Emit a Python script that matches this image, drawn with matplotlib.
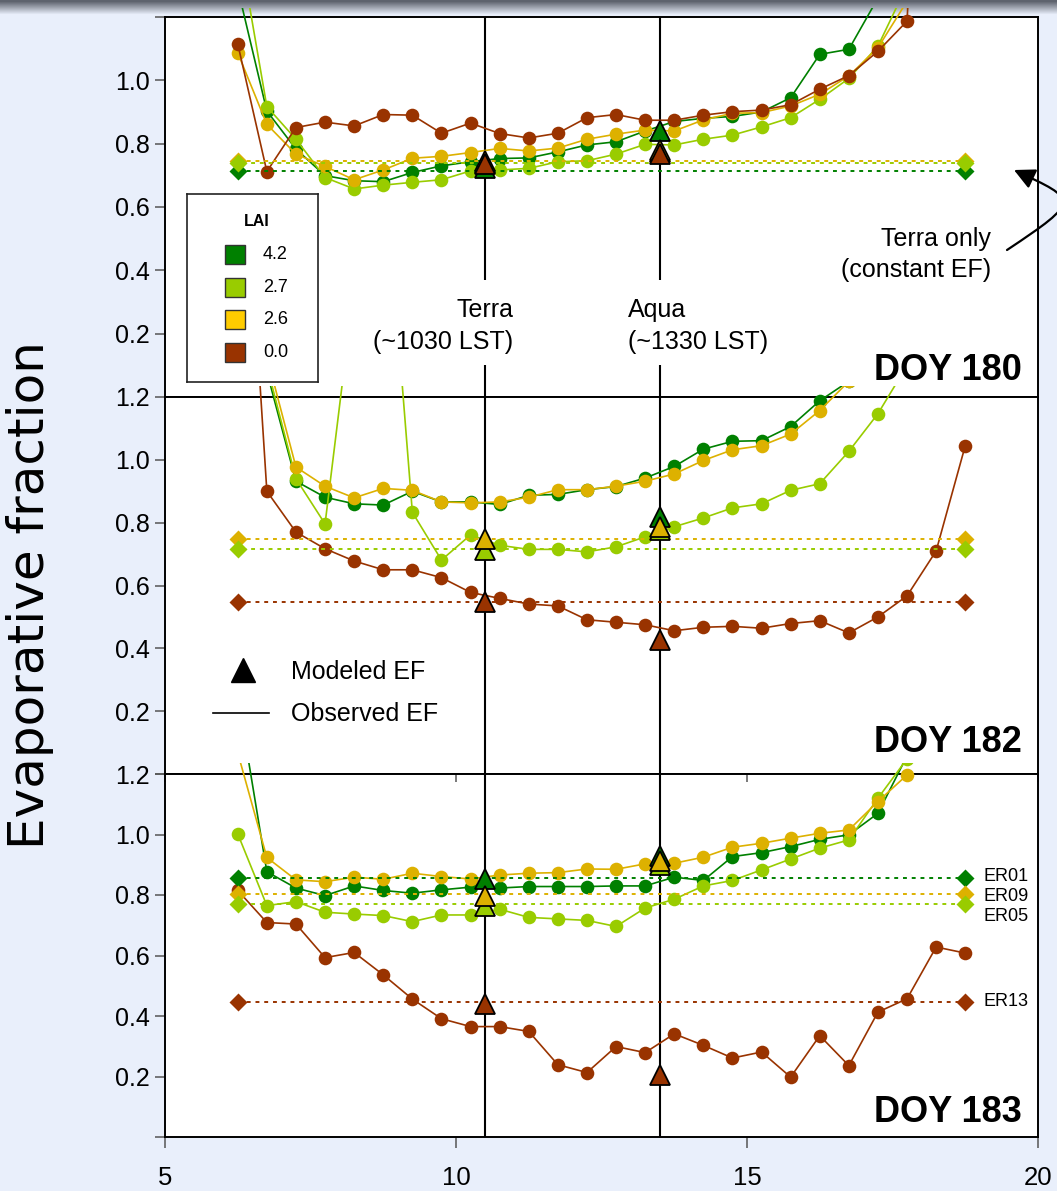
import numpy as np
import matplotlib
matplotlib.use("Agg")
import matplotlib.pyplot as plt
from matplotlib.patches import Rectangle, FancyArrowPatch
from matplotlib.path import Path
from matplotlib.transforms import Affine2D

plt.rcParams["font.family"] = ["Liberation Sans", "DejaVu Sans"]

nan = np.nan

# Half-hourly observation times (local solar time, hours)
hours = [6.25 + 0.5 * i for i in range(26)]

sites = ["ER01", "ER05", "ER09", "ER13"]
lai_labels = ["4.2", "2.7", "2.6", "0.0"]

# Overpass times (LST)
terra_time = 10.5
aqua_time = 13.5

# ---- DOY 180: observed EF ----
obs180_er01 = [1.29, 0.903, 0.783, 0.699, 0.683, 0.680, 0.709, 0.730, 0.743, 0.753, 0.755, 0.774, 0.796,
               0.806, 0.840, 0.870, 0.880, 0.886, 0.900, 0.945, 1.082, 1.098, 1.26, nan, nan, nan]
obs180_er05 = [1.45, 0.917, 0.814, 0.693, 0.657, 0.669, 0.678, 0.686, 0.714, 0.717, 0.722, 0.743, 0.746,
               0.767, 0.798, 0.796, 0.814, 0.827, 0.853, 0.882, 0.940, 1.006, 1.108, 1.30, nan, nan]
obs180_er09 = [1.087, 0.861, 0.767, 0.728, 0.686, 0.717, 0.754, 0.760, 0.772, 0.785, 0.777, 0.786, 0.814,
               0.830, 0.843, 0.840, 0.875, 0.896, 0.898, 0.919, 0.956, 1.014, 1.103, 1.25, nan, nan]
obs180_er13 = [1.115, 0.712, 0.851, 0.868, 0.856, 0.892, 0.890, 0.833, 0.865, 0.832, 0.818, 0.833, 0.882,
               0.892, 0.874, 0.874, 0.890, 0.901, 0.906, 0.923, 0.972, 1.015, 1.092, 1.187, 3.0, nan]
terra180 = [0.722, 0.740, 0.745, 0.736]      # ER01, ER05, ER09, ER13
aqua180 = [0.840, 0.775, 0.780, 0.766]
const180 = [0.713, 0.740, 0.745, nan]

# ---- DOY 182: observed EF ----
obs182_er01 = [nan, 1.28, 0.932, 0.881, 0.860, 0.856, 0.900, 0.866, 0.866, 0.858, 0.887, 0.890, 0.905,
               0.915, 0.942, 0.979, 1.034, 1.059, 1.061, 1.106, 1.188, 1.25, nan, nan, nan, nan]
obs182_er05 = [nan, 1.30, 0.940, 0.796, 1.55, 2.00, 0.833, 0.681, 0.761, 0.728, 0.715, 0.715, 0.707,
               0.723, 0.755, 0.787, 0.815, 0.847, 0.860, 0.903, 0.924, 1.027, 1.147, 1.30, nan, nan]
obs182_er09 = [nan, 1.33, 0.977, 0.916, 0.879, 0.909, 0.903, 0.866, 0.863, 0.866, 0.881, 0.905, 0.905,
               0.916, 0.932, 0.955, 0.998, 1.032, 1.045, 1.082, 1.157, 1.25, nan, nan, nan, nan]
obs182_er13 = [2.35, 0.900, 0.770, 0.717, 0.678, 0.650, 0.650, 0.625, 0.578, 0.559, 0.541, 0.535, 0.491,
               0.483, 0.475, 0.456, 0.467, 0.470, 0.464, 0.479, 0.488, 0.449, 0.500, 0.567, 0.710, 1.045]
terra182 = [nan, 0.713, 0.749, 0.547]
aqua182 = [0.819, 0.777, 0.785, 0.425]
const182 = [nan, 0.715, 0.747, 0.548]

# ---- DOY 183: observed EF ----
obs183_er01 = [1.46, 0.877, 0.823, 0.798, 0.830, 0.815, 0.806, 0.817, 0.826, 0.823, 0.828, 0.828, 0.828,
               0.830, 0.830, 0.859, 0.848, 0.927, 0.940, 0.960, 0.984, 0.999, 1.070, 1.26, nan, nan]
obs183_er05 = [1.002, 0.765, 0.778, 0.743, 0.737, 0.732, 0.712, 0.734, 0.734, 0.753, 0.726, 0.721, 0.716,
               0.696, 0.757, 0.786, 0.830, 0.848, 0.883, 0.919, 0.955, 0.982, 1.120, 1.25, nan, nan]
obs183_er09 = [1.27, 0.924, 0.850, 0.844, 0.859, 0.852, 0.872, 0.861, 0.853, 0.866, 0.872, 0.874, 0.886,
               0.885, 0.903, 0.905, 0.925, 0.958, 0.971, 0.988, 1.004, 1.015, 1.109, 1.197, nan, nan]
obs183_er13 = [0.815, 0.709, 0.704, 0.593, 0.610, 0.536, 0.456, 0.391, 0.365, 0.365, 0.349, 0.239, 0.213,
               0.299, 0.279, 0.341, 0.303, 0.261, 0.281, 0.198, 0.335, 0.236, 0.413, 0.457, 0.628, 0.608]
terra183 = [0.852, 0.765, 0.797, 0.441]
aqua183 = [0.929, 0.899, 0.913, 0.204]
const183 = [0.856, 0.771, 0.803, 0.445]

site_colors = {"ER01": "#008000", "ER05": "#99CC00", "ER09": "#DDB100", "ER13": "#993300"}
swatch_colors = ["#008000", "#99CC00", "#FFCC00", "#993300"]

BG = "#E9EFFB"
W, H = 1057, 1191
fig = plt.figure(figsize=(W / 100, H / 100), dpi=100, facecolor=BG)


def px_rect(left, top, right, bottom):
    return [left / W, 1 - bottom / H, (right - left) / W, (bottom - top) / H]


# grey title-bar gradient along the top edge
gax = fig.add_axes([0, 1 - 15 / H, 1, 15 / H])
gax.axis("off")
dark = np.array([0.37, 0.39, 0.43])
light = np.array([0.914, 0.937, 0.984])
t = np.clip((np.arange(15) - 1.0) / 13.0, 0, 1)[:, None]
grad = dark * (1 - t) + light * t
gax.imshow(grad[:, None, :], aspect="auto", extent=[0, 1, 0, 1])

X0, X1 = 165, 1038
ax1 = fig.add_axes(px_rect(X0, 17, X1, 397))
ax2 = fig.add_axes(px_rect(X0, 397, X1, 774))
ax3 = fig.add_axes(px_rect(X0, 774, X1, 1137))
panels = [
    (ax1, [obs180_er01, obs180_er05, obs180_er09, obs180_er13], terra180, aqua180, const180, "DOY 180", 9 / 380),
    (ax2, [obs182_er01, obs182_er05, obs182_er09, obs182_er13], terra182, aqua182, const182, "DOY 182", 11 / 377),
    (ax3, [obs183_er01, obs183_er05, obs183_er09, obs183_er13], terra183, aqua183, const183, "DOY 183", 11 / 363),
]

doy_base = {"DOY 180": 0.054, "DOY 182": 0.070, "DOY 183": 0.050}

for ax, obs, terra, aqua, const, doy, ext in panels:
    ax.set_xlim(5, 20)
    ax.set_ylim(0, 1.2)
    ax.set_facecolor("white")
    for s in ax.spines.values():
        s.set_linewidth(1.4)
        s.set_color("black")
    ax.tick_params(axis="y", direction="out", length=7, width=1.1, color="#555555",
                   labelsize=18, pad=4)
    overflow = Rectangle((0, 0), 1, 1 + ext, transform=ax.transAxes)

    # observed EF series
    for site, vals in zip(sites, obs):
        ln, = ax.plot(hours, vals, color=site_colors[site], lw=1.2, marker="o", ms=9.8,
                      mec="none", zorder=3)
        ln.set_clip_path(overflow)

    # Terra-only constant EF
    for k in [0, 2, 1, 3]:
        v = const[k]
        if np.isnan(v):
            continue
        c = site_colors[sites[k]]
        ls = (0, (2, 2.5)) if k != 1 else (2.25, (2, 2.5))
        ax.plot([hours[0], hours[-1]], [v, v], color=c, lw=1.4, ls=ls, zorder=4)
        ax.plot([hours[0], hours[-1]], [v, v], color=c, lw=0, marker="D", ms=9,
                mec="none", zorder=4.5)

    # modeled EF at the overpasses
    for k in [1, 0, 2, 3]:
        c = site_colors[sites[k]]
        for tt, vals in ((terra_time, terra), (aqua_time, aqua)):
            if np.isnan(vals[k]):
                continue
            ax.plot([tt], [vals[k]], marker="^", ms=15, color=c, mec="black", mew=1.3,
                    ls="none", zorder=6)

    ax.text(19.725, doy_base[doy], doy, ha="right", va="baseline", fontsize=26,
            fontweight="bold", zorder=7)

# overpass lines
gap_lo, gap_hi = 0.101, 0.369
for tt in (terra_time, aqua_time):
    ax1.vlines([tt, tt], [0, gap_hi], [gap_lo, 1.2], color="black", lw=1.5, zorder=2)
    ax2.axvline(tt, color="black", lw=1.5, zorder=2)
    ax3.axvline(tt, color="black", lw=1.5, zorder=2)

# y ticks
ax1.set_yticks([0.2, 0.4, 0.6, 0.8, 1.0, 1.2])
ax1.set_yticklabels(["0.2", "0.4", "0.6", "0.8", "1.0", ""])
for ax in (ax2, ax3):
    ax.set_yticks([0, 0.2, 0.4, 0.6, 0.8, 1.0, 1.2])
    ax.set_yticklabels(["", "0.2", "0.4", "0.6", "0.8", "1.0", "1.2"])

# x axis only on the bottom panel
for ax in (ax1, ax2):
    ax.tick_params(axis="x", bottom=False, labelbottom=False)
ax3.set_xticks([5, 10, 15, 20])
ax3.set_xticklabels(["5", "10", "15", "20"])
ax3.tick_params(axis="x", direction="out", length=8, width=1.1, color="#555555",
                labelsize=18.5, pad=13)
sec = ax3.secondary_xaxis("top")
sec.set_xticks([5, 10, 15, 20])
sec.tick_params(axis="x", direction="in", length=6, width=1.1, color="#555555", labeltop=False)
sec.spines["top"].set_visible(False)

# overpass labels
ax1.text(10.98, 0.2526, "Terra", ha="right", va="baseline", fontsize=18)
ax1.text(10.98, 0.1516, "(~1030 LST)", ha="right", va="baseline", fontsize=18)
ax1.text(12.955, 0.2526, "Aqua", ha="left", va="baseline", fontsize=18)
ax1.text(12.955, 0.1516, "(~1330 LST)", ha="left", va="baseline", fontsize=18)
ax1.text(19.19, 0.477, "Terra only", ha="right", va="baseline", fontsize=18)
ax1.text(19.19, 0.379, "(constant EF)", ha="right", va="baseline", fontsize=18)

# modeled / observed key
ax2.plot([6.34], [0.331], marker="^", ms=17, color="black", ls="none")
ax2.plot([5.825, 6.787], [0.194, 0.194], color="black", lw=1.2)
ax2.text(7.165, 0.302, "Modeled EF", ha="left", va="baseline", fontsize=18)
ax2.text(7.165, 0.170, "Observed EF", ha="left", va="baseline", fontsize=18)

# site names
for site, yv in zip(["ER01", "ER09", "ER05", "ER13"], [0.860, 0.795, 0.729, 0.447]):
    ax3.text(19.055, yv, site, ha="left", va="center", fontsize=13)

# y-axis title
fig.text(30 / W, 1 - 595 / H, "Evaporative fraction", rotation=90, ha="center", va="center",
         fontsize=36, family=["DejaVu Sans"])

# LAI key
lg = fig.add_axes(px_rect(187, 194, 318, 382))
lg.set_xlim(0, 131)
lg.set_ylim(188, 0)
lg.set_xticks([])
lg.set_yticks([])
lg.set_facecolor("white")
for s in lg.spines.values():
    s.set_linewidth(1.2)
    s.set_color("#222222")
lg.text(70, 28, "LAI", ha="center", va="center", fontsize=11.5, fontweight="bold")
for k, (lab, col) in enumerate(zip(lai_labels, swatch_colors)):
    yc = 60.3 + 32.7 * k
    lg.add_patch(Rectangle((38, yc - 9.5), 20, 19, facecolor=col, edgecolor="#333333", lw=1.0))
    lg.text(76, yc, lab, ha="left", va="center", fontsize=13)

# curved pointer to the constant-EF markers
to_fig = Affine2D().scale(1 / W, -1 / H).translate(0, 1) + fig.transFigure
arrow_path = Path([(1007, 250), (1082, 200), (1078, 200), (1014, 170)],
                  [Path.MOVETO, Path.CURVE4, Path.CURVE4, Path.CURVE4])
arr = FancyArrowPatch(path=arrow_path, arrowstyle="-|>,head_length=0.9,head_width=0.45",
                      mutation_scale=14, lw=1.6, color="black", transform=to_fig)
arr.set_clip_on(False)
fig.add_artist(arr)

fig.savefig("out.png", dpi=100, facecolor=BG)
